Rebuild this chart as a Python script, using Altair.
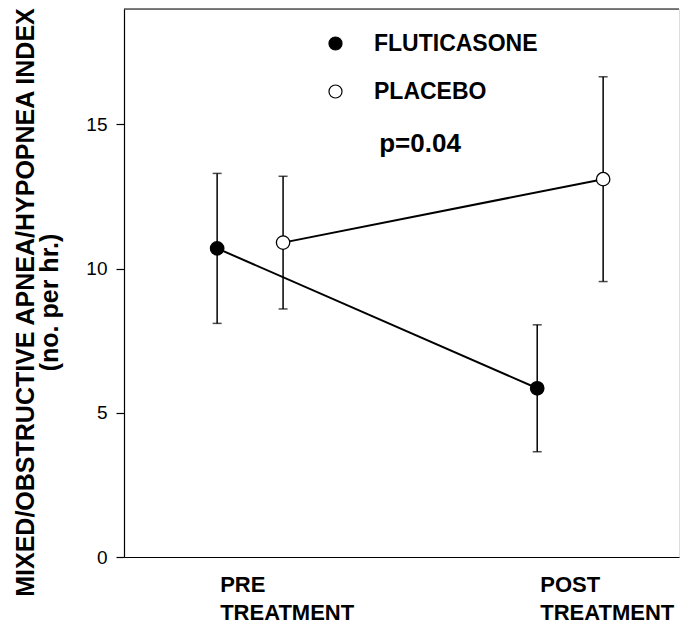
import altair as alt
import pandas as pd

# ---- data ----
groups = ["FLUTICASONE", "FLUTICASONE", "PLACEBO", "PLACEBO"]
phases = ["PRE", "POST", "PRE", "POST"]
means = [10.7, 5.85, 10.9, 13.1]
lower = [8.1, 3.65, 8.6, 9.55]
upper = [13.3, 8.05, 13.2, 16.65]
phase_labels = ["PRE\nTREATMENT", "POST\nTREATMENT"]
y_ticks = [0, 5, 10, 15]

phase_index = {"PRE": 1.0, "POST": 2.0}
group_offset = {"FLUTICASONE": -0.103, "PLACEBO": 0.103}

df = pd.DataFrame({
    "group": groups,
    "phase": phases,
    "mean": means,
    "lo": lower,
    "hi": upper,
})
df["xpos"] = [phase_index[p] + group_offset[g] for p, g in zip(df["phase"], df["group"])]

lab_df = pd.DataFrame({
    "label": phase_labels,
    "xpos": [phase_index["PRE"] + group_offset["FLUTICASONE"],
             phase_index["POST"] + group_offset["FLUTICASONE"]],
})

FONT = "Liberation Sans"
W, H = 555, 548
XDOM = [0.606, 2.34]
YDOM = [0, 19]

xs = alt.Scale(domain=XDOM, nice=False, zero=False)
ys = alt.Scale(domain=YDOM, nice=False)

x_enc = alt.X("xpos:Q", scale=xs,
              axis=alt.Axis(labels=False, ticks=False, title=None, grid=False,
                            domainColor="black", domainWidth=1.2))
y_enc = alt.Y("mean:Q", scale=ys,
              axis=alt.Axis(values=y_ticks, grid=False, tickSize=8, tickColor="black",
                            tickWidth=1.2, domainColor="black", domainWidth=1.2,
                            labelFont=FONT, labelFontSize=19, labelColor="black",
                            labelPadding=9,
                            title=["MIXED/OBSTRUCTIVE APNEA/HYPOPNEA INDEX", "(no. per hr.)"],
                            titleFont=FONT, titleFontSize=25, titleFontWeight="bold",
                            titleColor="black", titleAngle=270, titleAlign="center",
                            titleBaseline="bottom", titleX=-86, titleY=293,
                            titleLineHeight=24, titleLimit=0))

base = alt.Chart(df)

lines = base.mark_line(color="black", strokeWidth=2).encode(
    x=x_enc, y=y_enc, detail="group:N", order="xpos:Q")

bars = base.mark_rule(color="black", strokeWidth=1.5).encode(
    x="xpos:Q", y="lo:Q", y2="hi:Q")

caps_hi = base.mark_tick(color="black", orient="horizontal", size=9, thickness=1.5).encode(
    x="xpos:Q", y="hi:Q")
caps_lo = base.mark_tick(color="black", orient="horizontal", size=9, thickness=1.5).encode(
    x="xpos:Q", y="lo:Q")

points = base.mark_point(shape="circle", size=180, filled=True, stroke="black",
                         strokeWidth=1.3, opacity=1).encode(
    x="xpos:Q", y="mean:Q",
    fill=alt.Fill("group:N",
                  scale=alt.Scale(domain=["FLUTICASONE", "PLACEBO"], range=["black", "white"]),
                  legend=alt.Legend(title=None, orient="none", legendX=200, legendY=23,
                                    symbolType="circle", symbolSize=170,
                                    symbolStrokeColor="black", symbolStrokeWidth=1.2,
                                    labelFont=FONT, labelFontSize=23, labelFontWeight="bold",
                                    labelColor="black", labelOffset=27, rowPadding=24,
                                    labelLimit=0, padding=0)),
)

top_rule = alt.Chart(pd.DataFrame({"top": [YDOM[1]]})).mark_rule(
    color="black", strokeWidth=1.2).encode(
    y=alt.Y("top:Q", scale=ys), x=alt.value(0), x2=alt.value(W))

xlabels = alt.Chart(lab_df).mark_text(
    font=FONT, fontSize=22, fontWeight="bold", align="left", baseline="top",
    lineBreak="\n", lineHeight=28, color="black", dx=3).encode(
    x=alt.X("xpos:Q", scale=xs), y=alt.value(H + 18), text="label:N")

ptext = alt.Chart(pd.DataFrame({"t": ["p=0.04"]})).mark_text(
    font=FONT, fontSize=26, fontWeight="bold", align="center", baseline="middle",
    color="black").encode(x=alt.value(296), y=alt.value(135), text="t:N")

chart = alt.layer(top_rule, lines, bars, caps_hi, caps_lo, points, xlabels, ptext).properties(
    width=W, height=H,
    autosize=alt.AutoSizeParams(type="none"),
    padding={"left": 116, "top": 1, "right": 4, "bottom": 70},
).configure_view(stroke=None).configure(background="white")

chart.save("out.html", embed_options={"renderer": "svg", "actions": False})
